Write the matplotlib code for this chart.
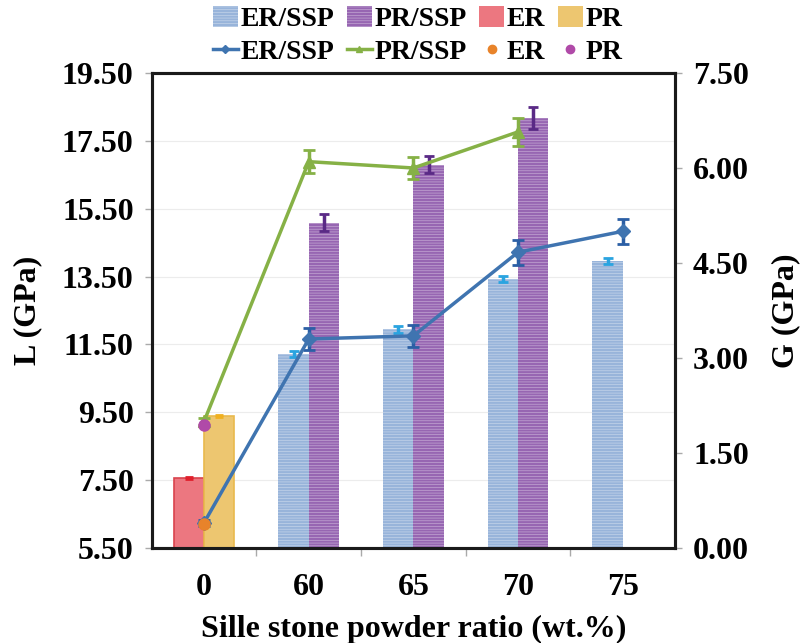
"""
plot.py - L and G moduli vs Sille stone powder ratio (bars + lines, twin axes)
"""
import matplotlib
matplotlib.use("Agg")
import matplotlib.pyplot as plt
import numpy as np
from matplotlib.lines import Line2D
from matplotlib.patches import Patch

plt.rcParams['font.family'] = ['Liberation Serif', 'DejaVu Serif']
plt.rcParams['font.weight'] = 'bold'
plt.rcParams['hatch.linewidth'] = 0.35

# x categories (wt.%)
categories = ["0", "60", "65", "70", "75"]

# L (GPa) - bars, left axis
er_bar = [7.56]
er_bar_err = [0.04]
pr_bar = [9.39]
pr_bar_err = [0.04]
er_ssp_bar = [11.22, 11.95, 13.43, 13.96]
er_ssp_bar_err = [0.10, 0.10, 0.10, 0.10]
pr_ssp_bar = [15.08, 16.80, 18.17]
pr_ssp_bar_err = [0.25, 0.25, 0.33]

# G (GPa) - lines, right axis
er_ssp_line = [0.40, 3.30, 3.35, 4.67, 5.00]
er_ssp_line_err = [0.05, 0.17, 0.17, 0.20, 0.20]
pr_ssp_line = [2.00, 6.10, 6.00, 6.57]
pr_ssp_line_err = [0.05, 0.18, 0.18, 0.22]
er_dot = [0.38]
pr_dot = [1.95]

c_er_ssp = "#98b4da"
c_pr_ssp = "#9766b2"
c_er = "#ec7780"
c_pr = "#edc670"
c_line_er = "#3f74b0"
c_line_pr = "#86b146"
hatch_col = (1, 1, 1, 0.6)

FS = 23


def main():
    fig = plt.figure(figsize=(8.03, 6.43), dpi=100)
    ax = fig.add_axes([0.189, 0.1477, 0.6516, 0.7388])
    ax2 = ax.twinx()

    x = np.arange(len(categories))
    w = 0.29

    # bars at 0 wt.%
    ax.bar(x[0] - w / 2, er_bar, w, color=c_er, edgecolor="#d9434d", linewidth=1.2, zorder=2)
    ax.errorbar(x[0] - w / 2, er_bar, yerr=er_bar_err, fmt='none', ecolor="#e0202c",
                elinewidth=2.5, capsize=3, capthick=2, zorder=3)
    ax.bar(x[0] + w / 2, pr_bar, w, color=c_pr, edgecolor="#e9b94d", linewidth=1.2, zorder=2)
    ax.errorbar(x[0] + w / 2, pr_bar, yerr=pr_bar_err, fmt='none', ecolor="#f0b020",
                elinewidth=2.5, capsize=3, capthick=2, zorder=3)

    # SSP bars (fine white horizontal lines)
    xs = x[1:]
    ax.bar(xs - w / 2, er_ssp_bar, w, color=c_er_ssp, edgecolor=hatch_col, linewidth=0,
           hatch="------", zorder=2)
    ax.errorbar(xs - w / 2, er_ssp_bar, yerr=er_ssp_bar_err, fmt='none', ecolor="#2aa4e0",
                elinewidth=2.5, capsize=3.5, capthick=2, zorder=3)
    xp = x[1:1 + len(pr_ssp_bar)]
    ax.bar(xp + w / 2, pr_ssp_bar, w, color=c_pr_ssp, edgecolor=hatch_col, linewidth=0,
           hatch="------", zorder=2)
    ax.errorbar(xp + w / 2, pr_ssp_bar, yerr=pr_ssp_bar_err, fmt='none', ecolor="#5a2a86",
                elinewidth=2.5, capsize=3.5, capthick=2, zorder=3)

    ax.set_ylim(5.5, 19.5)
    ax.set_yticks(np.arange(5.5, 19.6, 2.0))
    ax.set_yticklabels([f"{v:.2f}" for v in np.arange(5.5, 19.6, 2.0)])
    ax.set_xlim(-0.5, 4.5)
    ax.set_xticks(x)
    ax.set_xticklabels(categories)
    ax.set_xticks(np.arange(0.5, 4.0, 1.0), minor=True)
    ax.tick_params(axis='x', which='major', length=0, labelsize=FS, pad=18)
    ax.tick_params(axis='x', which='minor', length=6, color="#aaaaaa", width=1)
    ax.tick_params(axis='y', length=5, color="#aaaaaa", width=1, labelsize=FS, pad=8)
    ax.grid(True, axis='y', color="#ececec", linewidth=0.8, zorder=0)
    ax.set_axisbelow(True)

    # lines (right axis)
    ax2.errorbar(x, er_ssp_line, yerr=er_ssp_line_err, color=c_line_er, linewidth=2.5,
                 marker='D', markersize=7, ecolor="#2b5fa5", elinewidth=2.5, capsize=4,
                 capthick=2, zorder=4)
    ax2.errorbar(x[:len(pr_ssp_line)], pr_ssp_line, yerr=pr_ssp_line_err, color=c_line_pr,
                 linewidth=2.5, marker='^', markersize=8, ecolor=c_line_pr, elinewidth=2.5,
                 capsize=4, capthick=2, zorder=4)
    ax2.plot(x[0], er_dot, 'o', color="#e8832a", markersize=8, zorder=5)
    ax2.plot(x[0], pr_dot, 'o', color="#b04aa8", markersize=8, zorder=5)

    ax2.set_ylim(0, 7.5)
    ax2.set_yticks(np.arange(0, 7.6, 1.5))
    ax2.set_yticklabels([f"{v:.2f}" for v in np.arange(0, 7.6, 1.5)])
    ax2.tick_params(axis='y', length=5, color="#aaaaaa", width=1, labelsize=FS, pad=8)

    for a in (ax, ax2):
        for s in a.spines.values():
            s.set_linewidth(2.2)
            s.set_color("#1a1a1a")

    ax.set_xlabel("Sille stone powder ratio (wt.%)", fontsize=FS, fontweight='bold', labelpad=9)
    ax.set_ylabel("L (GPa)", fontsize=FS, fontweight='bold', labelpad=14)
    ax2.set_ylabel("G (GPa)", fontsize=FS, fontweight='bold', labelpad=16)

    # legend: two rows above the plot
    handles = [
        Patch(facecolor=c_er_ssp, edgecolor=hatch_col, linewidth=0, hatch="------"),
        Line2D([], [], color=c_line_er, lw=2.5, marker='D', markersize=4),
        Patch(facecolor=c_pr_ssp, edgecolor=hatch_col, linewidth=0, hatch="------"),
        Line2D([], [], color=c_line_pr, lw=2.5, marker='^', markersize=5),
        Patch(facecolor=c_er),
        Line2D([], [], color="#e8832a", lw=0, marker='o', markersize=6),
        Patch(facecolor=c_pr),
        Line2D([], [], color="#b04aa8", lw=0, marker='o', markersize=6),
    ]
    labels = ["ER/SSP", "ER/SSP", "PR/SSP", "PR/SSP", "ER", "ER", "PR", "PR"]
    fig.legend(handles, labels, ncol=4, loc='upper center', bbox_to_anchor=(0.52, 1.03),
               frameon=False, handlelength=0.9, handleheight=0.8,
               handletextpad=0.1, columnspacing=0.45, labelspacing=0.25,
               prop={'weight': 'bold', 'size': 20})

    fig.savefig("out.png", dpi=100, facecolor='white')


if __name__ == "__main__":
    main()
